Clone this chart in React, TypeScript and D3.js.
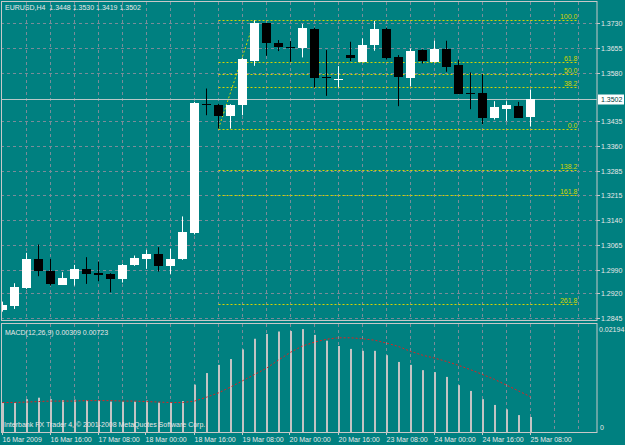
import { useEffect, useRef } from "react";
import * as d3 from "d3";

// EURUSD H4 candles, one value per bar
const opens = [1.2871, 1.2883, 1.2936, 1.3023, 1.2988, 1.2946, 1.2963, 1.2993, 1.2982, 1.2978, 1.2962, 1.3005, 1.3023, 1.3038, 1.3001, 1.3023, 1.3100, 1.3486, 1.3485, 1.3450, 1.3483, 1.3615, 1.3728, 1.3670, 1.3657, 1.3655, 1.3712, 1.3566, 1.3561, 1.3632, 1.3613, 1.3663, 1.3710, 1.3626, 1.3565, 1.3648, 1.3613, 1.3651, 1.3603, 1.3521, 1.3520, 1.3445, 1.3473, 1.3482, 1.3448];
const highs = [1.2895, 1.2950, 1.3041, 1.3066, 1.3023, 1.2983, 1.3005, 1.3028, 1.3015, 1.2980, 1.3008, 1.3033, 1.3050, 1.3058, 1.3053, 1.3150, 1.3493, 1.3533, 1.3487, 1.3486, 1.3624, 1.3737, 1.3729, 1.3678, 1.3675, 1.3726, 1.3715, 1.3648, 1.3600, 1.3673, 1.3683, 1.3735, 1.3715, 1.3633, 1.3653, 1.3650, 1.3676, 1.3676, 1.3618, 1.3581, 1.3576, 1.3495, 1.3495, 1.3493, 1.3530];
const lows = [1.2865, 1.2873, 1.2933, 1.2971, 1.2943, 1.2945, 1.2943, 1.2948, 1.2956, 1.2923, 1.2952, 1.3002, 1.2993, 1.2985, 1.2978, 1.3020, 1.3096, 1.3453, 1.3413, 1.3413, 1.3453, 1.3601, 1.3631, 1.3645, 1.3613, 1.3626, 1.3536, 1.3511, 1.3536, 1.3615, 1.3612, 1.3646, 1.3620, 1.3480, 1.3540, 1.3608, 1.3611, 1.3583, 1.3516, 1.3471, 1.3426, 1.3440, 1.3436, 1.3445, 1.3419];
const closes = [1.2886, 1.2938, 1.3023, 1.2986, 1.2947, 1.2966, 1.2993, 1.2978, 1.2976, 1.2962, 1.3005, 1.3025, 1.3039, 1.3003, 1.3022, 1.3103, 1.3490, 1.3485, 1.3450, 1.3485, 1.3620, 1.3730, 1.3670, 1.3658, 1.3656, 1.3714, 1.3565, 1.3564, 1.3562, 1.3625, 1.3663, 1.3710, 1.3623, 1.3566, 1.3646, 1.3615, 1.3650, 1.3598, 1.3518, 1.3520, 1.3445, 1.3478, 1.3485, 1.3445, 1.3502];

// MACD(12,26,9) main histogram and signal
const macdMain = [0.0060, 0.0060, 0.0068, 0.0071, 0.0068, 0.0066, 0.0067, 0.0066, 0.0066, 0.0063, 0.0063, 0.0063, 0.0065, 0.0061, 0.0060, 0.0064, 0.0098, 0.0122, 0.0139, 0.0151, 0.0171, 0.0193, 0.0203, 0.0208, 0.0209, 0.0213, 0.0201, 0.0189, 0.0178, 0.0172, 0.0168, 0.0168, 0.0159, 0.0145, 0.0139, 0.0128, 0.0124, 0.0114, 0.0097, 0.0085, 0.0068, 0.0056, 0.0047, 0.0035, 0.0031];
const macdSignal = [0.0061, 0.0061, 0.0062, 0.0063, 0.0064, 0.0064, 0.0064, 0.0065, 0.0065, 0.0065, 0.0064, 0.0064, 0.0063, 0.0062, 0.0061, 0.0061, 0.0064, 0.0072, 0.0081, 0.0093, 0.0106, 0.0119, 0.0132, 0.0149, 0.0165, 0.0178, 0.0186, 0.0192, 0.0195, 0.0195, 0.0193, 0.0190, 0.0184, 0.0177, 0.0167, 0.0159, 0.0153, 0.0146, 0.0138, 0.0129, 0.0119, 0.0109, 0.0097, 0.0085, 0.0073];

const timeLabels = ["16 Mar 2009", "16 Mar 16:00", "17 Mar 08:00", "18 Mar 00:00", "18 Mar 16:00", "19 Mar 08:00", "20 Mar 00:00", "20 Mar 16:00", "23 Mar 08:00", "24 Mar 00:00", "24 Mar 16:00", "25 Mar 08:00"];
const timeLabelBars = [0, 4, 8, 12, 16, 20, 24, 28, 32, 36, 40, 44];
const priceTicks = [1.3730, 1.3655, 1.3580, 1.3435, 1.3360, 1.3285, 1.3215, 1.3140, 1.3065, 1.2990, 1.2920, 1.2845];

// fibonacci retracement drawn from the bar 18 low to the bar 21 high
const fibRatios = [1, 0.618, 0.5, 0.382, 0, -0.382, -0.618, -1.618];
const fibLabels = ["100.0", "61.8", "50.0", "38.2", "0.0", "138.2", "161.8", "261.8"];
const fibLow = 1.3413;
const fibHigh = 1.3737;

export default function App() {
  const ref = useRef<SVGSVGElement>(null);

  useEffect(() => {
    document.body.style.margin = "0";
    const svg = d3.select(ref.current);
    svg.selectAll("*").remove();
    const W = 625, H = 445;
    const right = 597;
    const font = "'Liberation Sans', Arial, sans-serif";
    const textCol = "#e8e8e8";
    const gridCol = "#7a8c99";

    const x = d3.scaleLinear().domain([0, 44]).range([2.5, 530.5]);
    const y = d3.scaleLinear().domain([1.2845, 1.373]).range([318.3, 22.7]);
    const ym = d3.scaleLinear().domain([0, 0.02194]).range([432, 326]);
    const px = (v: number) => Math.round(v) + 0.5;

    svg.append("rect").attr("width", W).attr("height", H).attr("fill", "#008080");

    const defs = svg.append("defs");
    defs.append("clipPath").attr("id", "mainClip").append("rect")
      .attr("x", 1).attr("y", 2).attr("width", right - 1).attr("height", 318);
    defs.append("clipPath").attr("id", "macdClip").append("rect")
      .attr("x", 1).attr("y", 324).attr("width", right - 1).attr("height", 108);

    const main = svg.append("g").attr("clip-path", "url(#mainClip)");
    const macd = svg.append("g").attr("clip-path", "url(#macdClip)");

    // grid
    priceTicks.forEach(t => {
      main.append("line").attr("x1", 1).attr("x2", right)
        .attr("y1", px(y(t))).attr("y2", px(y(t)))
        .attr("stroke", gridCol).attr("stroke-dasharray", "3,3");
    });
    d3.range(2, 50, 2).forEach(i => {
      main.append("line").attr("x1", x(i)).attr("x2", x(i)).attr("y1", 2).attr("y2", 320)
        .attr("stroke", gridCol).attr("stroke-dasharray", "3,3");
      macd.append("line").attr("x1", x(i)).attr("x2", x(i)).attr("y1", 324).attr("y2", 432)
        .attr("stroke", gridCol).attr("stroke-dasharray", "3,3");
    });

    // bid line
    const bid = closes[closes.length - 1];
    main.append("line").attr("x1", 1).attr("x2", right)
      .attr("y1", px(y(bid))).attr("y2", px(y(bid)))
      .attr("stroke", "#b8c8c8");

    // fibonacci
    const fibCol = "#d4d400";
    fibRatios.forEach((r, k) => {
      const p = fibLow + (fibHigh - fibLow) * r;
      const yy = px(y(p));
      main.append("line").attr("x1", x(18)).attr("x2", x(48))
        .attr("y1", yy).attr("y2", yy)
        .attr("stroke", fibCol).attr("stroke-dasharray", "2,2");
      main.append("text").attr("x", x(48) - 1).attr("y", yy - 2)
        .attr("text-anchor", "end").attr("font-family", font).attr("font-size", 7)
        .attr("fill", fibCol).text(fibLabels[k]);
    });
    main.append("line").attr("x1", x(18)).attr("y1", y(fibLow))
      .attr("x2", x(21)).attr("y2", y(fibHigh))
      .attr("stroke", fibCol).attr("stroke-dasharray", "2,2");

    // candles
    opens.forEach((o, i) => {
      const c = closes[i];
      const up = c > o;
      const col = up ? "#ffffff" : "#000000";
      const cx = x(i);
      main.append("line").attr("x1", cx).attr("x2", cx)
        .attr("y1", y(highs[i])).attr("y2", y(lows[i])).attr("stroke", col);
      const top = Math.round(y(Math.max(o, c)));
      const bot = Math.round(y(Math.min(o, c)));
      main.append("rect").attr("x", cx - 4.5).attr("y", top)
        .attr("width", 9).attr("height", Math.max(1, bot - top)).attr("fill", col);
    });

    // macd
    macdMain.forEach((v, i) => {
      macd.append("rect").attr("x", x(i) - 0.5).attr("y", ym(v))
        .attr("width", 2).attr("height", 432 - ym(v)).attr("fill", "#c4c4c4");
    });
    const line = d3.line<number>().x((_, i) => x(i)).y(d => ym(d));
    macd.append("path").attr("d", line(macdSignal)).attr("fill", "none")
      .attr("stroke", "#e02020").attr("stroke-dasharray", "2,2");

    // borders
    const border = "#c8c8c8";
    svg.append("rect").attr("x", 1.5).attr("y", 1.5).attr("width", right - 1.5).attr("height", 319)
      .attr("fill", "none").attr("stroke", border);
    svg.append("rect").attr("x", 1.5).attr("y", 323.5).attr("width", right - 1.5).attr("height", 109)
      .attr("fill", "none").attr("stroke", border);

    // price axis
    priceTicks.forEach(t => {
      const yy = px(y(t));
      svg.append("line").attr("x1", right).attr("x2", right + 3).attr("y1", yy).attr("y2", yy).attr("stroke", border);
      svg.append("text").attr("x", right + 4).attr("y", yy + 2.5)
        .attr("font-family", font).attr("font-size", 7).attr("fill", textCol).text(t.toFixed(4));
    });
    const by = px(y(bid));
    svg.append("rect").attr("x", right + 1).attr("y", by - 5).attr("width", 26).attr("height", 10).attr("fill", "#ffffff");
    svg.append("text").attr("x", right + 4).attr("y", by + 2.5)
      .attr("font-family", font).attr("font-size", 7).attr("fill", "#004040").text(bid.toFixed(4));

    // macd scale
    svg.append("text").attr("x", right + 2).attr("y", 332)
      .attr("font-family", font).attr("font-size", 7).attr("fill", textCol).text("0.02194");
    svg.append("text").attr("x", right + 3).attr("y", 430)
      .attr("font-family", font).attr("font-size", 7).attr("fill", textCol).text("0");

    // time axis
    timeLabelBars.forEach((b, k) => {
      const xx = px(x(b) - 1);
      svg.append("line").attr("x1", xx).attr("x2", xx).attr("y1", 432).attr("y2", 435).attr("stroke", border);
      svg.append("text").attr("x", xx).attr("y", 442)
        .attr("font-family", font).attr("font-size", 7).attr("fill", textCol).text(timeLabels[k]);
    });

    // captions
    svg.append("text").attr("x", 5).attr("y", 10).attr("font-family", font).attr("font-size", 7)
      .attr("fill", textCol).text("EURUSD,H4\u00a0 1.3448 1.3530 1.3419 1.3502");
    svg.append("text").attr("x", 5).attr("y", 335).attr("font-family", font).attr("font-size", 7)
      .attr("fill", textCol).text("MACD(12,26,9) 0.00309 0.00723");
    svg.append("text").attr("x", 4).attr("y", 427).attr("font-family", font).attr("font-size", 7)
      .attr("fill", textCol).text("Interbank FX Trader 4, © 2001-2008 MetaQuotes Software Corp.");
  }, []);

  return <svg ref={ref} width={625} height={445} style={{ display: "block" }}></svg>;
}
